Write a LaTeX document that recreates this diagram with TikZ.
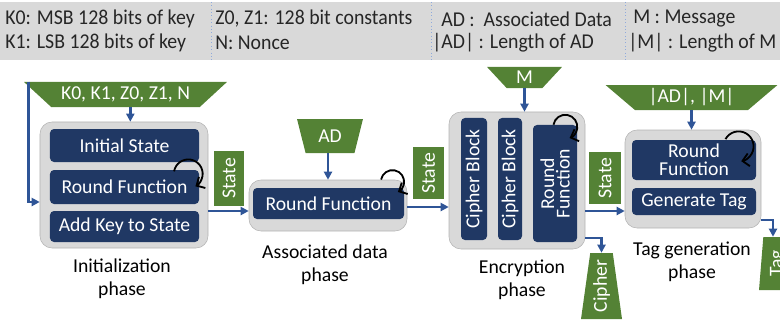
\documentclass[tikz,border=0pt]{standalone}
\usepackage{fontspec}
\setmainfont{Carlito}
\newfontfamily\legendfont[FakeStretch=0.94]{Carlito}
\usetikzlibrary{positioning, arrows.meta, shapes.geometric}
\definecolor{lwgreen}{HTML}{548235}
\definecolor{lwnavy}{HTML}{203864}
\definecolor{lwgray}{HTML}{D9D9D9}
\definecolor{lwedge}{HTML}{B4B4B4}
\definecolor{lwblue}{HTML}{2F5597}
\definecolor{lwsep}{HTML}{8FAADC}

\begin{document}
\begin{tikzpicture}[
  x=0.25mm, y=-0.25mm,
  font=\fontsize{14}{16}\selectfont,
  phasebox/.style={draw=lwedge, fill=lwgray, rounded corners=3mm, inner sep=0pt},
  opbox/.style={fill=lwnavy, text=white, rounded corners=1mm, inner sep=0pt, align=center},
  vop/.style={opbox, rotate=90},
  statebox/.style={fill=lwgreen, text=white, rotate=90, inner sep=0pt},
  inp/.style={trapezium, trapezium stretches=true, shape border rotate=180, fill=lwgreen, text=white, inner sep=0pt},
  outp/.style={trapezium, trapezium stretches=true, fill=lwgreen, text=white, inner sep=0pt},
  flow/.style={draw=lwblue, line width=1.8pt, -{Triangle[length=2mm, width=2mm]}},
  spin/.style={draw=black, line width=1.3pt, -{Straight Barb[length=1.6mm]}},
  phaselabel/.style={align=center, font=\fontsize{14}{16.5}\selectfont},
  hdr/.style={anchor=west, inner sep=0pt, text=black!85, font=\legendfont\fontsize{15}{18}\selectfont},
]
  \useasboundingbox (0,0) rectangle (780,324);
  \clip (0,0) rectangle (780,324);

  % legend band
  \fill[lwgray] (0,2) rectangle (780,60);
  \foreach \x in {211,431,625}
    \draw[lwsep, dotted, thin] (\x,2) -- (\x,60);
  \node[hdr] (k0) at (5,19) {K0: MSB 128 bits of key};
  \node[hdr] (k1) at (5,43) {K1: LSB 128 bits of key};
  \node[hdr] (zc) at (215,19) {Z0, Z1: 128 bit constants};
  \node[hdr] (nn) at (215,43) {N: Nonce};
  \node[hdr] (adn) at (441,19) {AD :\ \ Associated Data};
  \node[hdr] (adl) at (432,43) {|AD| : Length of AD};
  \node[hdr] (mn) at (633,19) {M : Message};
  \node[hdr] (ml) at (628,43) {|M| : Length of M};

  % initialization
  \node[inp, trapezium angle=33, minimum width=50.75mm, minimum height=6.25mm] (keys) at (125.5,94.5) {K0, K1, Z0, Z1, N};
  \node[phasebox, minimum width=42mm, minimum height=31.5mm] (init) at (124,185) {};
  \node[opbox, minimum width=37.25mm, minimum height=8.25mm] (istate) at (124.5,145.5) {Initial State};
  \node[opbox, minimum width=37.25mm, minimum height=8.5mm] (iround) at (124.5,187) {Round Function};
  \node[opbox, minimum width=37.25mm, minimum height=7.75mm] (ikey) at (124.5,226.5) {Add Key to State};
  \node[statebox, minimum width=13.75mm, minimum height=7.5mm] (st1) at (229,178.5) {State};
  \node[phaselabel] (initcap) at (122,279) {Initialization\\phase};

  % associated data
  \node[inp, trapezium angle=72, minimum width=16.5mm, minimum height=8.5mm] (adin) at (330,136) {AD};
  \node[phasebox, minimum width=39.5mm, minimum height=12.75mm] (adbox) at (328,205.5) {};
  \node[opbox, minimum width=37.75mm, minimum height=7.75mm] (adround) at (328.5,203.5) {Round Function};
  \node[statebox, minimum width=13mm, minimum height=7.75mm] (st2) at (428.5,173) {State};
  \node[phaselabel] (adcap) at (325,265) {Associated data\\phase};

  % encryption
  \node[inp, trapezium angle=54, minimum width=18.75mm, minimum height=5.25mm] (min) at (524.5,77.5) {M};
  \node[phasebox, minimum width=34mm, minimum height=34.25mm] (enc) at (517,180.5) {};
  \node[vop, minimum width=30.5mm, minimum height=6.5mm] (cb1) at (474,179) {Cipher Block};
  \node[vop, minimum width=30.5mm, minimum height=6mm] (cb2) at (510,179) {Cipher Block};
  \node[vop, minimum width=29.25mm, minimum height=11mm, font=\fontsize{14}{11}\selectfont] (eround) at (555,183.5) {Round\\Function};
  \node[statebox, minimum width=13mm, minimum height=8mm] (st3) at (605,178) {State};
  \node[outp, trapezium angle=82.5, minimum width=10.25mm, minimum height=16.5mm] (cipher) at (601.5,286) {\rotatebox{90}{Cipher}};
  \node[phaselabel] (enccap) at (522,280) {Encryption\\phase};

  % tag generation
  \node[inp, trapezium angle=38, minimum width=43.25mm, minimum height=6.25mm] (lens) at (691.5,97.5) {|AD|, |M|};
  \node[phasebox, minimum width=34mm, minimum height=24.5mm] (tagbox) at (693,179) {};
  \node[opbox, minimum width=31mm, minimum height=10mm, font=\fontsize{14}{12.5}\selectfont] (tround) at (694,160) {Round\\Function};
  \node[opbox, minimum width=31mm, minimum height=6.75mm] (gentag) at (694,201.5) {Generate Tag};
  \node[outp, trapezium angle=85, minimum width=9.5mm, minimum height=13.25mm] (tagout) at (778,263.5) {\rotatebox{90}{Tag}};
  \node[phaselabel] (tagcap) at (692,262) {Tag generation\\phase};

  % inputs into the phases
  \draw[flow] ([xshift=1.2mm]keys.south) -- ([xshift=1.2mm]keys.south |- init.north);
  \draw[flow] ([xshift=-2.75mm]init.west |- keys.north) |- ([yshift=-4.25mm]init.west);
  \draw[flow] (adin.south -| adbox.north) -- (adbox.north);
  \draw[flow] (min.south) -- (min.south |- enc.north);
  \draw[flow] (lens.south) -- (lens.south |- tagbox.north);

  % state passed along
  \draw[flow] (init.east |- 0,211) -- (adbox.west |- 0,211);
  \draw[flow] (adbox.east |- 0,207) -- (enc.west |- 0,207);
  \draw[flow] (enc.east |- 0,211) -- (tagbox.west |- 0,211);

  % outputs
  \draw[flow] (enc.east |- 0,238) -| (cipher.north);
  \draw[flow] (tagbox.east |- 0,220) -| ([xshift=-1.25mm]tagout.north);

  % round loops
  \draw[spin] ([xshift=-6.3mm,yshift=-0.4mm]iround.north east) arc[start angle=170, end angle=-60, radius=3.6mm];
  \draw[spin] ([xshift=-5.8mm,yshift=2.05mm]adround.north east) arc[start angle=169, end angle=-62, radius=2.9mm];
  \draw[spin] ([xshift=-5.95mm]eround.south east) arc[start angle=170, end angle=-69, radius=3mm];
  \draw[spin] ([xshift=-7.7mm,yshift=0.15mm]tround.north east) arc[start angle=151, end angle=-80, radius=3.75mm];
\end{tikzpicture}
\end{document}
